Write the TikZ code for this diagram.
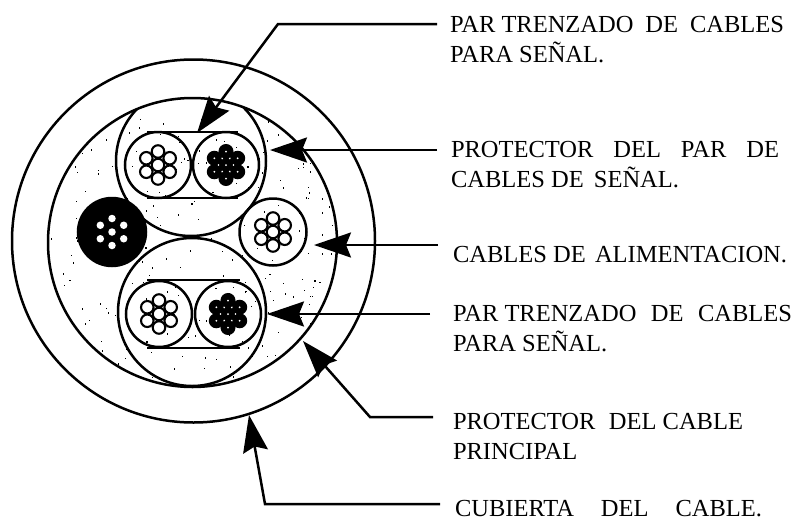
\documentclass[tikz,border=0pt]{standalone}
\usepackage{fontspec}
\setmainfont{Liberation Serif}
\usetikzlibrary{arrows.meta}
\tikzset{
  x=1pt,y=-1pt,
  ink/.style={draw=black,line width=2.5pt},
  jacket/.style={circle,ink,inner sep=0pt,outer sep=0pt,minimum size=#1},
  strandw/.style={circle,draw=black,line width=2.1pt,fill=white,inner sep=0pt,minimum size=12.5pt},
  strandb/.style={circle,draw=black,line width=1.5pt,fill=black,inner sep=0pt,minimum size=13.5pt},
  pinhole/.style={circle,fill=white,inner sep=0pt,minimum size=#1},
  lead/.style={draw=black,line width=2.5pt,-{Stealth[length=37pt,width=25pt,inset=5pt]}},
  label/.style={anchor=north west,inner sep=0pt,outer sep=0pt,align=left,font=\fontsize{24.5}{30}\selectfont},
}
\newcommand{\fitline}[2]{\makebox[#1pt][s]{#2}}
% #1 centre name
\newcommand{\whitestrands}[1]{%
  \foreach \ang in {90,30,-30,-90,-150,150}{\node[strandw] at ([shift={(\ang:13.5)}]#1) {};}
  \node[strandw] at (#1) {};}
\newcommand{\blackstrands}[1]{%
  \foreach \ang in {90,30,-30,-90,-150,150}{\node[strandb] at ([shift={(\ang:13.5)}]#1) {};}
  \node[strandb] at (#1) {};
  \foreach \ang in {90,30,-30,-90,-150,150}{\node[pinhole=2pt] at ([shift={(\ang:13.5)}]#1) {};\node[pinhole=1.6pt] at ([shift={(\ang+30:7.5)}]#1) {};}
  \node[pinhole=2pt] at (#1) {};}
\begin{document}
\begin{tikzpicture}
\useasboundingbox (0,0) rectangle (793,523);
% speckle
\begin{scope}
  \clip (192.5,242.5) circle[radius=144];
  \pgfmathsetseed{4711}
  \foreach \n in {1,...,300}{
    \pgfmathsetmacro{\px}{48+rnd*290}
    \pgfmathsetmacro{\py}{98+rnd*290}
    \fill[black] (\px,\py) rectangle ++(1.1,1.5);
  }
\end{scope}
% jackets
\node[jacket=363pt] (outer) at (193.5,241) {};
\node[jacket=289pt] (inner) at (192.5,242.5) {};
\begin{scope}
  \clip (192.5,242.5) circle[radius=145];
  \node[jacket=150pt] (shieldA) at (191,161) {};
  \node[jacket=148pt] (shieldB) at (192,312) {};
\end{scope}
% power cable and black cable
\node[jacket=68pt,fill=black] (blackcable) at (112,232) {};
\node[pinhole=7.5pt] at (blackcable) {};
\foreach \ang in {90,30,-30,-90,-150,150}{\node[pinhole=7.5pt] at ([shift={(\ang:13.5)}]blackcable) {};}
\node[jacket=67pt] (powercable) at (273,232) {};
\whitestrands{powercable}
% upper pair
\node[jacket=66pt] (aL) at (158,165) {};
\node[jacket=66pt] (aR) at (226,165) {};
\whitestrands{aL}
\blackstrands{aR}
\draw[ink] (147,132) -- (238,132) (147,198) -- (238,198);
% lower pair
\node[jacket=66pt] (bL) at (159,314) {};
\node[jacket=66pt] (bR) at (228,314) {};
\whitestrands{bL}
\blackstrands{bR}
\draw[ink] (147,280) -- (240,280) (147,348) -- (240,348);
% labels
\node[label] (t1) at (450,16.5) {\fitline{334}{\mbox{PAR TRENZADO} DE CABLES}\\PARA SEÑAL.};
\node[label] (t2) at (451,141.5) {\fitline{328}{PROTECTOR DEL PAR DE}\\\fitline{228}{\mbox{CABLES DE} SEÑAL.}};
\node[label] (t3) at (453,246.5) {\fitline{334}{\mbox{CABLES DE} ALIMENTACION.}};
\node[label] (t4) at (453,305.5) {\fitline{339}{\mbox{PAR TRENZADO} DE CABLES}\\PARA SEÑAL.};
\node[label] (t5) at (453,413.5) {\fitline{290}{PROTECTOR \mbox{DEL CABLE}}\\PRINCIPAL};
\node[label] (t6) at (455,500.5) {\fitline{307}{CUBIERTA DEL CABLE.}};
% connector ends
\coordinate (s1) at (437,24);   \coordinate (e1) at (278,24);  \coordinate (h1) at (197,133);
\coordinate (s2) at (437,150);  \coordinate (h2) at (270,150);
\coordinate (s3) at (438,245);  \coordinate (h3) at (314,245);
\coordinate (s4) at (430,314);  \coordinate (h4) at (267,314);
\coordinate (s5) at (433,417);  \coordinate (e5) at (370,417); \coordinate (h5) at (303,341);
\coordinate (s6) at (440,504);  \coordinate (e6) at (265,504); \coordinate (h6) at (249,415);
\draw[lead] (s1) -- (e1) -- (h1);
\draw[lead] (s2) -- (h2);
\draw[lead] (s3) -- (h3);
\draw[lead] (s4) -- (h4);
\draw[lead] (s5) -- (e5) -- (h5);
\draw[lead] (s6) -- (e6) -- (h6);
\end{tikzpicture}
\end{document}
